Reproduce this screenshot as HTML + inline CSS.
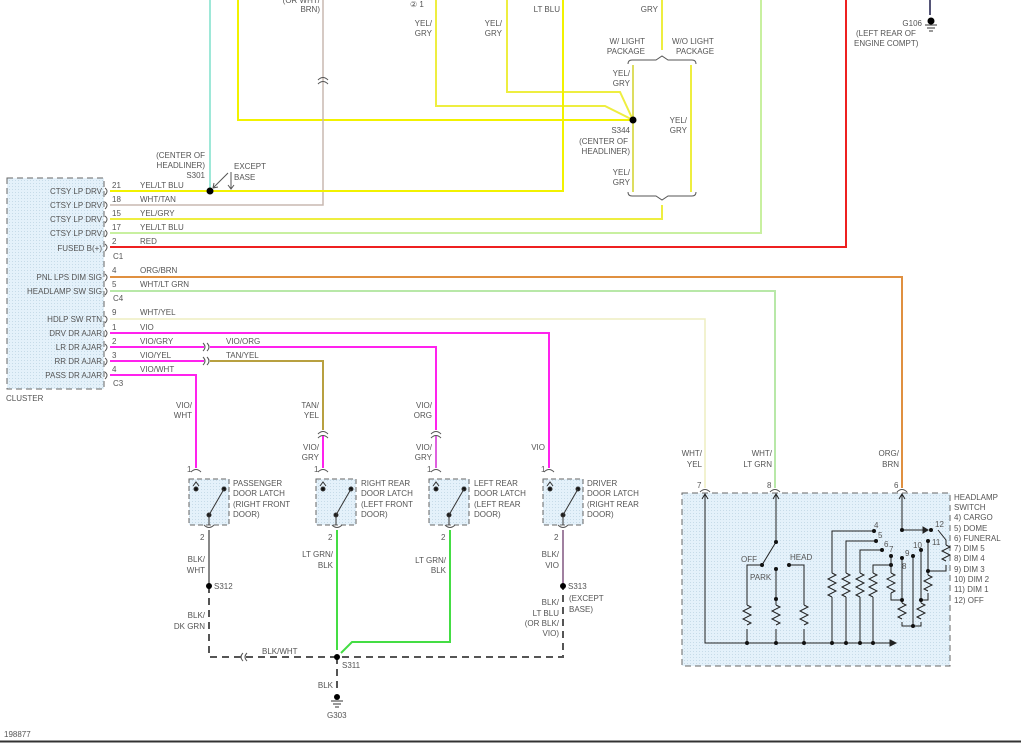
<!DOCTYPE html>
<html><head><meta charset="utf-8"><style>
html,body{margin:0;padding:0;background:#fff}
svg{display:block}
text{font-family:"Liberation Sans",sans-serif;font-size:8px;fill:#555}
</style></head><body>
<svg width="1021" height="743" viewBox="0 0 1021 743" xmlns="http://www.w3.org/2000/svg">
<defs>
<pattern id="dots" width="3" height="3" patternUnits="userSpaceOnUse"><rect width="3" height="3" fill="#e4f1fa"/><rect width="1" height="1" fill="#c6dbe8"/></pattern>
</defs>
<rect x="7" y="178" width="97" height="211" fill="url(#dots)" stroke="#666" stroke-dasharray="6,4" stroke-width="1"/>
<rect x="682" y="493" width="268" height="173" fill="url(#dots)" stroke="#666" stroke-dasharray="6,4"/>
<g fill="url(#dots)" stroke="#666" stroke-dasharray="5,3">
<rect x="189" y="479" width="40" height="46"/>
<rect x="316" y="479" width="40" height="46"/>
<rect x="429" y="479" width="40" height="46"/>
<rect x="543" y="479" width="40" height="46"/>
</g>

<g fill="none" stroke-width="2">
<polyline points="210,0 210,191" stroke="#9ee8d8"/>
<polyline points="238,0 238,120 633,120" stroke="#f2f200"/>
<polyline points="323,0 323,205 110,205" stroke="#c8b8b0" stroke-width="1.5"/>
<polyline points="436,0 436,106 605,106 633,120" stroke="#eeee40"/>
<polyline points="507,0 507,92 620,92 633,120" stroke="#eeee40"/>
<polyline points="563,0 563,191 110,191" stroke="#f2f200"/>
<polyline points="662,0 662,50" stroke="#eeee40"/>
<polyline points="633,65 633,192" stroke="#dddd60"/>
<polyline points="691,65 691,192" stroke="#eeee40"/>
<polyline points="662,205 662,219 110,219" stroke="#eeee40"/>
<polyline points="761,0 761,233 110,233" stroke="#c8f0a0"/>
<polyline points="846,0 846,247 110,247" stroke="#ee2020"/>
<polyline points="930,0 930,15" stroke="#557"/>
<polyline points="110,277 902,277 902,488" stroke="#e09040"/>
<polyline points="110,291 775,291 775,488" stroke="#b8e8a8"/>
<polyline points="110,319 705,319 705,488" stroke="#eeeec0" stroke-width="1.5"/>
<polyline points="110,333 549,333 549,468" stroke="#ff22ee"/>
<polyline points="110,347 204,347" stroke="#ff22ee"/>
<polyline points="210,347 436,347 436,430" stroke="#ff22ee"/>
<polyline points="436,436 436,468" stroke="#e060e0"/>
<polyline points="110,361 204,361" stroke="#ff22ee"/>
<polyline points="210,361 323,361 323,430" stroke="#b8a040"/>
<polyline points="323,436 323,468" stroke="#ff22ee"/>
<polyline points="110,375 196,375 196,468" stroke="#ff22ee"/>
<polyline points="209,530 209,586" stroke="#888"/>
<polyline points="563,530 563,586" stroke="#a080a0"/>
<polyline points="337,530 337,650" stroke="#44dd44"/>
<polyline points="450,530 450,642 352,642 341,653" stroke="#44dd44"/>
</g>
<g fill="none" stroke="#555" stroke-width="2" stroke-dasharray="7,5">
<polyline points="209,586 209,657 563,657 563,586"/>
<polyline points="337,657 337,692"/>
</g>
<g fill="none" stroke="#555" stroke-width="1">
<path d="M318,80 q5,-5 10,0 M318,84 q5,-5 10,0"/>
<path d="M203,343 q4,4 0,8 M207,343 q4,4 0,8 M203,357 q4,4 0,8 M207,357 q4,4 0,8"/>
<path d="M431,434 q5,-5 10,0 M431,438 q5,-5 10,0 M318,434 q5,-5 10,0 M318,438 q5,-5 10,0"/>
<path d="M191,472 q5,-5 10,0 M318,472 q5,-5 10,0 M431,472 q5,-5 10,0 M544,472 q5,-5 10,0"/>
<path d="M204,525 q5,5 10,0 M332,525 q5,5 10,0 M445,525 q5,5 10,0 M558,525 q5,5 10,0"/>
<path d="M700,492 q5,-5 10,0 M770,492 q5,-5 10,0 M897,492 q5,-5 10,0"/>
<path d="M243,653 q-4,4 0,8 M247,653 q-4,4 0,8"/>
<path d="M628,64 q0,-4 4,-4 h24 l6,-4 l6,4 h24 q4,0 4,4"/>
<path d="M628,192 q0,4 4,4 h24 l6,4 l6,-4 h24 q4,0 4,-4"/>
<path d="M213,188 l15,-15 M213,188 l1,-5 M213,188 l5,-1 M231,172 v16 M228,185 l3,4 l3,-4"/>
</g>
<g fill="none" stroke="#555" stroke-width="1">
<path d="M105,188 q4,3 0,7 M105,202 q4,3 0,7 M105,216 q4,3 0,7 M105,230 q4,3 0,7 M105,244 q4,3 0,7 M105,274 q4,3 0,7 M105,288 q4,3 0,7 M105,316 q4,3 0,7 M105,330 q4,3 0,7 M105,344 q4,3 0,7 M105,358 q4,3 0,7 M105,372 q4,3 0,7"/>
</g>
<g stroke="#333" stroke-width="1" fill="#111">
<g id="l1"><circle cx="196" cy="489" r="2"/><circle cx="209" cy="515" r="2"/><circle cx="224" cy="489" r="2"/><line x1="209" y1="515" x2="224" y2="489"/><line x1="209" y1="515" x2="209" y2="525"/><path d="M193,486 l3,-4 l3,4" fill="none"/></g>
<use href="#l1" x="127"/><use href="#l1" x="240"/><use href="#l1" x="354"/>
</g>
<g fill="#000">
<circle cx="210" cy="191" r="3.5"/><circle cx="633" cy="120" r="3.5"/>
<circle cx="209" cy="586" r="3"/><circle cx="563" cy="586" r="3"/><circle cx="337" cy="657" r="3"/>
<circle cx="337" cy="697" r="3"/><circle cx="931" cy="21" r="3.5"/>
</g>
<g stroke="#333" fill="none"><path d="M331,701 h12 M333,704 h8 M335,707 h4 M925,25 h12 M927,28 h8 M929,31 h4"/></g>

<g fill="none" stroke="#222" stroke-width="1">
<polyline points="705,495 705,643 895,643"/><path d="M890,640 l6,3 l-6,3 z" fill="#222"/><path d="M702,499 l3,-5 l3,5"/><path d="M773,499 l3,-5 l3,5"/><path d="M899,499 l3,-5 l3,5"/>
<polyline points="776,495 776,542 762,565"/>
<polyline points="762,565 747,565 747,605"/><polyline points="747,629 747,643"/>
<polyline points="776,569 776,605"/><polyline points="776,629 776,643"/>
<polyline points="789,565 804,565 804,605"/><polyline points="804,629 804,643"/>
<polyline points="874,531 832,531 832,573"/><polyline points="832,597 832,643"/>
<polyline points="876,541 846,541 846,573"/><polyline points="846,597 846,643"/>
<polyline points="882,550 860,550 860,573"/><polyline points="860,597 860,643"/>
<polyline points="891,565 873,565 873,573"/><polyline points="873,597 873,643"/>
<polyline points="891,556 891,573"/><polyline points="891,593 891,600 902,600"/>
<polyline points="902,558 902,600 902,603"/><polyline points="902,622 902,626 921,626 921,622"/>
<polyline points="913,556 913,626"/>
<polyline points="921,550 921,603"/>
<polyline points="928,541 928,575"/><polyline points="928,593 928,600 921,600"/>
<polyline points="928,571 946,571 946,565"/><polyline points="946,545 946,540 938,530"/>
<polyline points="902,495 902,530 925,530"/><path d="M923,527 l5,3 l-5,3 z" fill="#222"/>
<path d="M747,605 l4,2 l-8,4 l8,4 l-8,4 l8,4 l-4,2 M776,605 l4,2 l-8,4 l8,4 l-8,4 l8,4 l-4,2 M804,605 l4,2 l-8,4 l8,4 l-8,4 l8,4 l-4,2"/>
<path d="M832,573 l4,2 l-8,4 l8,4 l-8,4 l8,4 l-8,4 l4,2 M846,573 l4,2 l-8,4 l8,4 l-8,4 l8,4 l-8,4 l4,2 M860,573 l4,2 l-8,4 l8,4 l-8,4 l8,4 l-8,4 l4,2 M873,573 l4,2 l-8,4 l8,4 l-8,4 l8,4 l-8,4 l4,2"/>
<path d="M891,573 l4,2 l-8,4 l8,4 l-8,4 l8,4 l-4,2 M902,603 l4,2 l-8,4 l8,4 l-8,4 l4,2 M921,603 l4,2 l-8,4 l8,4 l-8,4 l4,2 M928,575 l4,2 l-8,4 l8,4 l-8,4 l4,2 M946,545 l4,2 l-8,4 l8,4 l-8,4 l4,2"/>
</g>
<g fill="#111">
<circle cx="776" cy="542" r="2"/><circle cx="762" cy="565" r="2"/><circle cx="776" cy="569" r="2"/><circle cx="776" cy="599" r="2"/><circle cx="789" cy="565" r="2"/>
<circle cx="747" cy="643" r="2"/><circle cx="776" cy="643" r="2"/><circle cx="804" cy="643" r="2"/><circle cx="832" cy="643" r="2"/><circle cx="846" cy="643" r="2"/><circle cx="860" cy="643" r="2"/><circle cx="873" cy="643" r="2"/>
<circle cx="874" cy="531" r="2"/><circle cx="876" cy="541" r="2"/><circle cx="882" cy="550" r="2"/><circle cx="891" cy="556" r="2"/><circle cx="891" cy="565" r="2"/>
<circle cx="902" cy="558" r="2"/><circle cx="913" cy="556" r="2"/><circle cx="921" cy="550" r="2"/><circle cx="928" cy="541" r="2"/><circle cx="928" cy="571" r="2"/>
<circle cx="902" cy="600" r="2"/><circle cx="921" cy="600" r="2"/><circle cx="913" cy="626" r="2"/><circle cx="902" cy="530" r="2"/><circle cx="931" cy="530" r="2"/>
</g>
<g>
<text x="741" y="562">OFF</text><text x="750" y="580">PARK</text><text x="790" y="560">HEAD</text>
<text x="874" y="528">4</text><text x="878" y="538">5</text><text x="884" y="547">6</text><text x="889" y="552">7</text><text x="902" y="569">8</text><text x="905" y="556">9</text><text x="913" y="548">10</text><text x="932" y="545">11</text><text x="935" y="527">12</text>
<text x="697" y="488">7</text><text x="767" y="488">8</text><text x="894" y="488">6</text>
<text x="954" y="500">HEADLAMP</text><text x="954" y="510">SWITCH</text><text x="954" y="520">4) CARGO</text><text x="954" y="531">5) DOME</text><text x="954" y="541">6) FUNERAL</text><text x="954" y="551">7) DIM 5</text><text x="954" y="561">8) DIM 4</text><text x="954" y="572">9) DIM 3</text><text x="954" y="582">10) DIM 2</text><text x="954" y="592">11) DIM 1</text><text x="954" y="603">12) OFF</text>
</g>

<g text-anchor="end">
<text x="102" y="194">CTSY LP DRV</text><text x="102" y="208">CTSY LP DRV</text><text x="102" y="222">CTSY LP DRV</text><text x="102" y="236">CTSY LP DRV</text><text x="102" y="251">FUSED B(+)</text>
<text x="102" y="280">PNL LPS DIM SIG</text><text x="102" y="294">HEADLAMP SW SIG</text>
<text x="102" y="322">HDLP SW RTN</text><text x="102" y="336">DRV DR AJAR</text><text x="102" y="350">LR DR AJAR</text><text x="102" y="364">RR DR AJAR</text><text x="102" y="378">PASS DR AJAR</text>
<text x="205" y="158">(CENTER OF</text><text x="205" y="168">HEADLINER)</text><text x="205" y="178">S301</text>
<text x="320" y="3">(OR WHT/</text><text x="320" y="12">BRN)</text>
<text x="432" y="26">YEL/</text><text x="432" y="36">GRY</text>
<text x="502" y="26">YEL/</text><text x="502" y="36">GRY</text>
<text x="560" y="12">LT BLU</text><text x="658" y="12">GRY</text>
<text x="645" y="44">W/ LIGHT</text><text x="645" y="54">PACKAGE</text>
<text x="630" y="76">YEL/</text><text x="630" y="86">GRY</text>
<text x="630" y="133">S344</text><text x="628" y="144">(CENTER OF</text><text x="630" y="154">HEADLINER)</text>
<text x="630" y="175">YEL/</text><text x="630" y="185">GRY</text>
<text x="687" y="123">YEL/</text><text x="687" y="133">GRY</text>
<text x="922" y="26">G106</text>
<text x="192" y="408">VIO/</text><text x="192" y="418">WHT</text>
<text x="319" y="408">TAN/</text><text x="319" y="418">YEL</text>
<text x="319" y="450">VIO/</text><text x="319" y="460">GRY</text>
<text x="432" y="408">VIO/</text><text x="432" y="418">ORG</text>
<text x="432" y="450">VIO/</text><text x="432" y="460">GRY</text>
<text x="545" y="450">VIO</text>
<text x="702" y="456">WHT/</text><text x="702" y="467">YEL</text>
<text x="772" y="456">WHT/</text><text x="772" y="467">LT GRN</text>
<text x="899" y="456">ORG/</text><text x="899" y="467">BRN</text>
<text x="205" y="562">BLK/</text><text x="205" y="573">WHT</text>
<text x="205" y="618">BLK/</text><text x="205" y="629">DK GRN</text>
<text x="333" y="557">LT GRN/</text><text x="333" y="568">BLK</text>
<text x="446" y="563">LT GRN/</text><text x="446" y="573">BLK</text>
<text x="559" y="557">BLK/</text><text x="559" y="568">VIO</text>
<text x="559" y="605">BLK/</text><text x="559" y="616">LT BLU</text><text x="559" y="626">(OR BLK/</text><text x="559" y="636">VIO)</text>
<text x="333" y="688">BLK</text>
</g>
<g>
<text x="112" y="188">21</text><text x="140" y="188">YEL/LT BLU</text>
<text x="112" y="202">18</text><text x="140" y="202">WHT/TAN</text>
<text x="112" y="216">15</text><text x="140" y="216">YEL/GRY</text>
<text x="112" y="230">17</text><text x="140" y="230">YEL/LT BLU</text>
<text x="112" y="244">2</text><text x="140" y="244">RED</text>
<text x="113" y="259">C1</text>
<text x="112" y="273">4</text><text x="140" y="273">ORG/BRN</text>
<text x="112" y="287">5</text><text x="140" y="287">WHT/LT GRN</text>
<text x="113" y="301">C4</text>
<text x="112" y="315">9</text><text x="140" y="315">WHT/YEL</text>
<text x="112" y="330">1</text><text x="140" y="330">VIO</text>
<text x="112" y="344">2</text><text x="140" y="344">VIO/GRY</text><text x="226" y="344">VIO/ORG</text>
<text x="112" y="358">3</text><text x="140" y="358">VIO/YEL</text><text x="226" y="358">TAN/YEL</text>
<text x="112" y="372">4</text><text x="140" y="372">VIO/WHT</text>
<text x="113" y="386">C3</text>
<text x="6" y="401">CLUSTER</text>
<text x="234" y="169">EXCEPT</text><text x="234" y="180">BASE</text>
<text x="410" y="7">② 1</text><text x="672" y="44">W/O LIGHT</text><text x="676" y="54">PACKAGE</text>
<text x="856" y="36">(LEFT REAR OF</text><text x="854" y="46">ENGINE COMPT)</text>
<text x="187" y="472">1</text><text x="314" y="472">1</text><text x="427" y="472">1</text><text x="541" y="472">1</text>
<text x="200" y="540">2</text><text x="328" y="540">2</text><text x="441" y="540">2</text><text x="554" y="540">2</text>
<text x="233" y="486">PASSENGER</text><text x="233" y="496">DOOR LATCH</text><text x="233" y="507">(RIGHT FRONT</text><text x="233" y="517">DOOR)</text>
<text x="361" y="486">RIGHT REAR</text><text x="361" y="496">DOOR LATCH</text><text x="361" y="507">(LEFT FRONT</text><text x="361" y="517">DOOR)</text>
<text x="474" y="486">LEFT REAR</text><text x="474" y="496">DOOR LATCH</text><text x="474" y="507">(LEFT REAR</text><text x="474" y="517">DOOR)</text>
<text x="587" y="486">DRIVER</text><text x="587" y="496">DOOR LATCH</text><text x="587" y="507">(RIGHT REAR</text><text x="587" y="517">DOOR)</text>
<text x="214" y="589">S312</text><text x="568" y="589">S313</text><text x="569" y="601">(EXCEPT</text><text x="569" y="612">BASE)</text>
<text x="262" y="654">BLK/WHT</text><text x="342" y="668">S311</text><text x="327" y="718">G303</text>
<text x="4" y="737">198877</text>
</g>
<line x1="0" y1="741.5" x2="1021" y2="741.5" stroke="#333" stroke-width="2"/>
</svg>
</body></html>
